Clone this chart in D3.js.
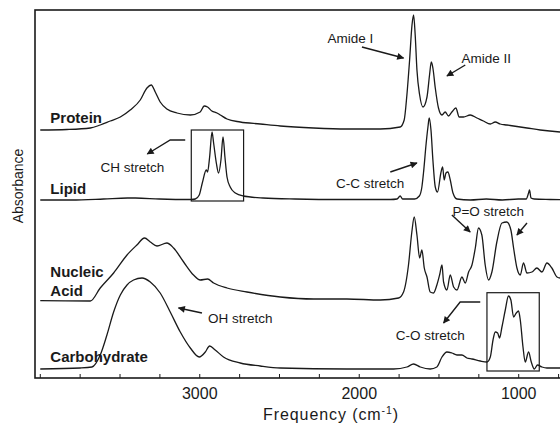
<!DOCTYPE html>
<html>
<head>
<meta charset="utf-8">
<script src="https://cdn.jsdelivr.net/npm/d3@7"></script>
<style>
  body { margin: 0; background: #fff; }
  svg { display: block; font-family: "Liberation Sans", Arial, sans-serif; }
</style>
</head>
<body>
<svg id="chart" width="560" height="427"></svg>
<script>
// spectra: [wavenumber cm-1, absorbance (offset, a.u.)]
const protein = [[3997,2.48],[3830,2.485],[3683,2.50],[3621,2.53],[3558,2.57],[3495,2.61],[3433,2.68],[3370,2.78],[3328,2.90],[3301,2.93],[3276,2.86],[3245,2.76],[3203,2.69],[3140,2.65],[3056,2.63],[2994,2.66],[2969,2.72],[2948,2.71],[2921,2.67],[2889,2.65],[2868,2.63],[2826,2.59],[2743,2.56],[2618,2.54],[2492,2.52],[2283,2.50],[2074,2.49],[1865,2.49],[1740,2.51],[1715,2.58],[1698,2.83],[1681,3.18],[1666,3.53],[1656,3.63],[1646,3.43],[1635,3.08],[1618,2.83],[1597,2.71],[1572,2.81],[1556,3.03],[1545,3.16],[1535,3.10],[1520,2.90],[1500,2.70],[1478,2.63],[1458,2.66],[1437,2.62],[1416,2.66],[1391,2.70],[1370,2.61],[1343,2.61],[1301,2.63],[1259,2.60],[1218,2.57],[1175,2.54],[1144,2.56],[1113,2.54],[1071,2.53],[1029,2.52],[945,2.50],[862,2.48],[737,2.46],[600,2.45]];
const lipid = [[3997,1.78],[3800,1.78],[3600,1.79],[3450,1.80],[3400,1.80],[3250,1.79],[3050,1.785],[3025,1.79],[3000,1.83],[2981,1.95],[2956,2.08],[2948,2.06],[2935,2.21],[2920,2.46],[2910,2.35],[2893,2.15],[2879,2.05],[2864,2.18],[2851,2.41],[2839,2.21],[2826,2.01],[2806,1.91],[2774,1.85],[2724,1.82],[2600,1.80],[2400,1.79],[2100,1.785],[1800,1.785],[1760,1.79],[1740,1.82],[1725,1.79],[1650,1.79],[1620,1.82],[1604,1.91],[1594,2.05],[1577,2.35],[1566,2.51],[1558,2.60],[1547,2.48],[1535,2.18],[1520,1.91],[1506,1.86],[1485,2.05],[1474,2.11],[1464,1.98],[1453,2.05],[1441,2.06],[1426,1.98],[1409,1.85],[1384,1.79],[1300,1.78],[1200,1.79],[1100,1.78],[1000,1.79],[950,1.79],[935,1.85],[929,1.88],[920,1.80],[900,1.79],[800,1.785],[600,1.78]];
const nucleic = [[3997,0.773],[3683,0.77],[3621,0.90],[3537,1.05],[3453,1.23],[3391,1.33],[3343,1.40],[3307,1.36],[3265,1.32],[3203,1.35],[3161,1.30],[3098,1.16],[3036,1.03],[2994,0.98],[2948,0.99],[2910,0.95],[2826,0.90],[2701,0.86],[2492,0.81],[2283,0.79],[2074,0.79],[1865,0.78],[1750,0.80],[1719,0.86],[1688,1.13],[1667,1.46],[1652,1.61],[1635,1.43],[1618,1.20],[1604,1.28],[1589,1.10],[1572,1.01],[1552,0.86],[1531,0.85],[1510,0.93],[1493,1.03],[1478,1.13],[1468,0.96],[1447,0.88],[1426,1.03],[1405,0.91],[1384,0.88],[1353,1.01],[1332,0.95],[1311,1.06],[1290,1.13],[1269,1.30],[1249,1.50],[1228,1.43],[1207,1.13],[1186,0.98],[1165,1.06],[1134,1.36],[1102,1.55],[1071,1.56],[1046,1.48],[1029,1.30],[1008,1.10],[987,1.03],[967,1.15],[945,1.05],[914,1.06],[883,1.10],[851,1.06],[820,1.15],[789,1.10],[757,1.01],[737,1.00],[650,1.05],[600,1.05]];
const carbohydrate = [[3997,0.09],[3746,0.10],[3673,0.11],[3621,0.23],[3579,0.43],[3537,0.66],[3495,0.83],[3453,0.93],[3412,0.98],[3359,1.00],[3307,0.96],[3245,0.85],[3182,0.66],[3119,0.46],[3056,0.30],[3000,0.21],[2962,0.26],[2935,0.32],[2900,0.28],[2848,0.21],[2743,0.15],[2618,0.12],[2492,0.10],[2074,0.09],[1781,0.09],[1698,0.11],[1656,0.14],[1614,0.11],[1552,0.09],[1510,0.11],[1478,0.21],[1447,0.26],[1416,0.25],[1384,0.23],[1353,0.23],[1322,0.20],[1290,0.19],[1238,0.17],[1196,0.16],[1175,0.21],[1158,0.38],[1144,0.46],[1129,0.45],[1117,0.40],[1102,0.51],[1081,0.68],[1061,0.82],[1046,0.78],[1029,0.61],[1012,0.65],[998,0.67],[987,0.58],[970,0.31],[956,0.16],[935,0.26],[918,0.16],[899,0.09],[879,0.13],[851,0.11],[820,0.10],[737,0.10],[600,0.10]];

const seriesNames = ["Protein", "Lipid", "Nucleic\nAcid", "Carbohydrate"];
const tickValues = d3.range(750, 4001, 250);
const labelTicks = [3000, 2000, 1000];

const svg = d3.select("#chart");
const x = d3.scaleLinear().domain([4030, 600]).range([35, 582]);
const y = d3.scaleLinear().domain([0, 3.68]).range([378, 10]);
const ink = "#1a1a1a";

svg.append("defs").append("marker")
  .attr("id", "head")
  .attr("viewBox", "0 0 10 10")
  .attr("refX", 9).attr("refY", 5)
  .attr("markerWidth", 9).attr("markerHeight", 7)
  .attr("markerUnits", "userSpaceOnUse")
  .attr("orient", "auto")
  .append("path").attr("d", "M0,0 L10,5 L0,10 z").attr("fill", ink);

// frame
svg.append("rect")
  .attr("x", x(4030)).attr("y", y(3.68))
  .attr("width", x(600) - x(4030)).attr("height", y(0) - y(3.68))
  .attr("fill", "none").attr("stroke", ink).attr("stroke-width", 1.6);

// bottom axis, ticks inside
const axis = d3.axisBottom(x)
  .tickValues(tickValues)
  .tickSize(-4)
  .tickPadding(10)
  .tickFormat(d => labelTicks.includes(d) ? d : "");
const gx = svg.append("g").attr("transform", `translate(0,${y(0)})`).call(axis);
gx.select(".domain").remove();
gx.selectAll("line").attr("stroke", ink);
gx.selectAll("text").attr("font-size", 16).attr("fill", ink)
  .attr("font-family", "'Liberation Sans', Arial, sans-serif");

// spectra
const line = d3.line().x(d => x(d[0])).y(d => y(d[1])).curve(d3.curveMonotoneX);
[protein, lipid, nucleic, carbohydrate].forEach(s => {
  svg.append("path").datum(s).attr("d", line)
    .attr("fill", "none").attr("stroke", ink).attr("stroke-width", 1.3);
});

// series labels
const labelPos = [[3934, 2.55], [3934, 1.845], [3934, 1.013], [3934, 0.163]];
seriesNames.forEach((n, i) => {
  const t = svg.append("text").attr("x", x(labelPos[i][0])).attr("y", y(labelPos[i][1]))
    .attr("font-size", 15).attr("font-weight", "bold").attr("fill", ink);
  n.split("\n").forEach((part, j) => {
    t.append("tspan").attr("x", x(labelPos[i][0])).attr("dy", j ? 19.5 : 0).text(part);
  });
});

// highlight boxes
[[3050, 2722, 2.48, 1.77], [1196, 868, 0.853, 0.07]].forEach(b => {
  svg.append("rect").attr("x", x(b[0])).attr("y", y(b[2]))
    .attr("width", x(b[1]) - x(b[0])).attr("height", y(b[3]) - y(b[2]))
    .attr("fill", "none").attr("stroke", ink).attr("stroke-width", 1.2);
});

// annotations
const notes = [
  { text: "Amide I", at: [2053, 3.35] },
  { text: "Amide II", at: [1200, 3.15] },
  { text: "CH stretch", at: [3420, 2.06] },
  { text: "C-C stretch", at: [1928, 1.90] },
  { text: "P=O stretch", at: [1188, 1.62] },
  { text: "OH stretch", at: [2743, 0.55] },
  { text: "C-O stretch", at: [1552, 0.38] }
];
notes.forEach(n => {
  svg.append("text").attr("x", x(n.at[0])).attr("y", y(n.at[1]))
    .attr("text-anchor", "middle").attr("font-size", 13.5).attr("fill", ink).text(n.text);
});

const arrows = [
  [[1980, 3.31], [1719, 3.20]],
  [[1332, 3.13], [1447, 3.02]],
  [[3088, 2.38], [3182, 2.38], [3326, 2.24]],
  [[1802, 2.06], [1635, 2.15]],
  [[1416, 1.63], [1301, 1.46]],
  [[945, 1.55], [1008, 1.43]],
  [[2983, 0.65], [3130, 0.70]],
  [[1238, 0.76], [1364, 0.76], [1468, 0.55]]
];
const arrowLine = d3.line().x(d => x(d[0])).y(d => y(d[1]));
arrows.forEach(a => {
  svg.append("path").attr("d", arrowLine(a))
    .attr("fill", "none").attr("stroke", ink).attr("stroke-width", 1.4)
    .attr("marker-end", "url(#head)");
});

// axis titles
const xt = svg.append("text").attr("x", 331).attr("y", 420)
  .attr("text-anchor", "middle").attr("font-size", 16).attr("letter-spacing", 0.9).attr("fill", ink);
xt.append("tspan").text("Frequency (cm");
xt.append("tspan").attr("font-size", 10.5).attr("dy", -6).text("-1");
xt.append("tspan").attr("dy", 6).text(")");

svg.append("text").attr("transform", "translate(23,186) rotate(-90)")
  .attr("text-anchor", "middle").attr("font-size", 14).attr("fill", ink).text("Absorbance");
</script>
</body>
</html>
